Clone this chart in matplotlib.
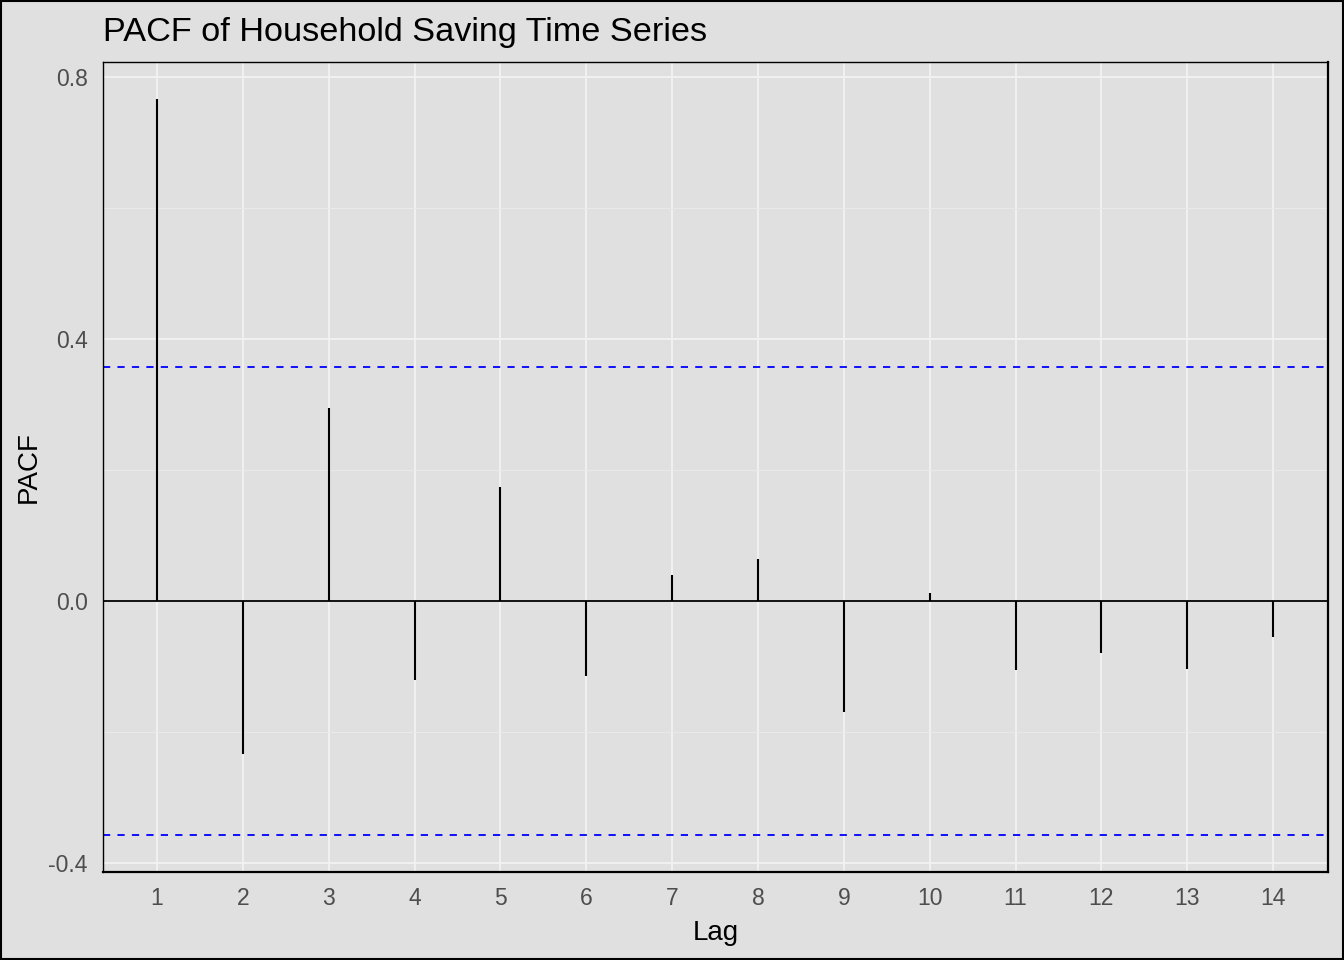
import numpy as np
import matplotlib
matplotlib.use("Agg")
import matplotlib.pyplot as plt

plt.rcParams['font.family'] = ['Liberation Sans', 'DejaVu Sans']

lags = np.arange(1, 15)
pacf_vals = [0.766, -0.234, 0.295, -0.121, 0.174, -0.115, 0.040,
             0.064, -0.169, 0.012, -0.105, -0.079, -0.104, -0.055]
n_obs = 30
ci = 1.96 / np.sqrt(n_obs)

bg = '#E0E0E0'
fig = plt.figure(figsize=(13.44, 9.6), dpi=100, facecolor=bg)
ax = fig.add_axes([103 / 1344, 1 - 872 / 960, (1328 - 103) / 1344, (872 - 62) / 960])
ax.set_facecolor(bg)

# grid
ax.set_xlim(0.37, 14.64)
ax.set_ylim(-0.414, 0.823)
ax.set_xticks(lags)
ax.set_yticks([-0.4, 0.0, 0.4, 0.8])
ax.set_yticks([-0.2, 0.2, 0.6], minor=True)
ax.set_yticklabels(['-0.4', '0.0', '0.4', '0.8'])
ax.grid(True, which='major', color='#F2F2F2', linewidth=1.3)
ax.grid(True, which='minor', axis='y', color='#EAEAEA', linewidth=0.7)
ax.set_axisbelow(True)
ax.tick_params(which='both', length=0, labelsize=16.5, labelcolor='#4D4D4D')
ax.tick_params(axis='x', pad=11)
ax.tick_params(axis='y', pad=11)

ax.axhline(0, color='black', linewidth=1.3)
ax.vlines(lags, 0, pacf_vals, color='black', linewidth=1.5)
ax.axhline(ci, color='blue', linestyle=(0, (4, 4)), linewidth=1.3)
ax.axhline(-ci, color='blue', linestyle=(0, (4, 4)), linewidth=1.3)

for side in ['top', 'left']:
    ax.spines[side].set_linewidth(1.0)
for side in ['bottom', 'right']:
    ax.spines[side].set_linewidth(1.6)
for s in ax.spines.values():
    s.set_color('black')

ax.set_xlabel('Lag', fontsize=20, labelpad=7)
ax.set_ylabel('PACF', fontsize=20, labelpad=5)
fig.text(103 / 1344, 1 - 41 / 960, 'PACF of Household Saving Time Series', fontsize=24.7,
         ha='left', va='baseline')

# figure border
fig.patches.append(plt.Rectangle((0.0007, 0.001), 0.9986, 0.998, transform=fig.transFigure,
                                 fill=False, edgecolor='black', linewidth=1.5))

fig.savefig('out.png', dpi=100, facecolor=bg)
